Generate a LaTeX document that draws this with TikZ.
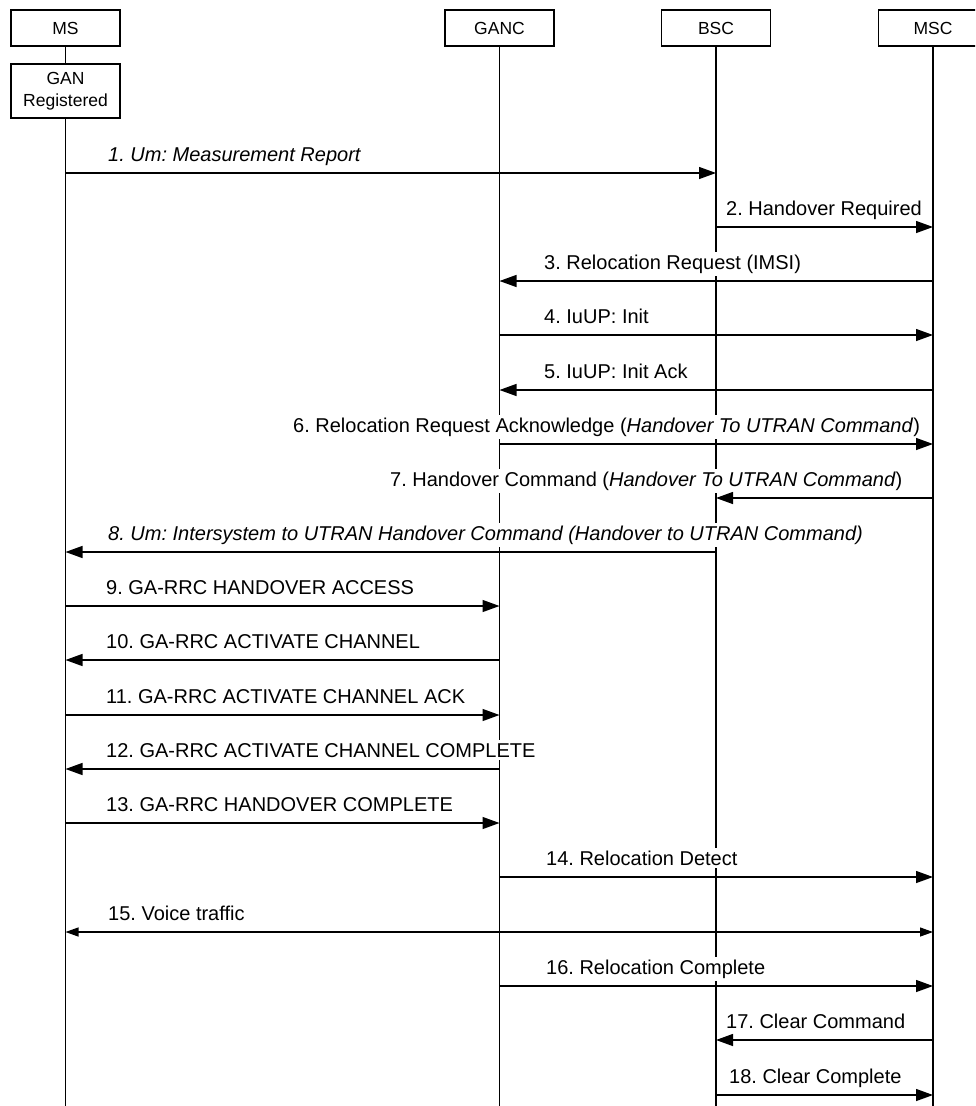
\documentclass[tikz,border=0pt]{standalone}
\usepackage{fontspec}
\setmainfont{Liberation Sans}
\frenchspacing
\usetikzlibrary{
  arrows.meta
}
\definecolor{ink}{HTML}{000000}
\tikzset{
  font=\fontsize{20}{24}\selectfont,
  entity/.style={
    draw=ink,
    line width=1.2pt,
    fill=white,
    align=center,
    text=ink,
    minimum width=109pt,
    minimum height=36pt,
    inner sep=0pt,
    font=\fontsize{17.5}{21.5}\selectfont
  },
  statebox/.style={
    entity,
    minimum height=54pt
  },
  lifeline/.style={draw=ink, line width=1.3pt},
  msg/.style={-{Triangle[length=17pt,width=12pt]}, draw=ink, line width=1.3pt},
  msgboth/.style={{Triangle[length=13pt,width=9pt]}-{Triangle[length=13pt,width=9pt]}, draw=ink, line width=1.3pt},
  msg label/.style={anchor=base west, fill=white, inner xsep=1pt, inner ysep=3pt, text=ink}
}

\begin{document}
\begin{tikzpicture}[x=1pt,y=-1pt]
  \useasboundingbox (0,0) rectangle (975,1106);
  \clip (0,0) rectangle (975,1106);

  % Entities
  \node[entity] (ms) at (65.5,28) {MS};
  \node[entity] (ganc) at (499.5,28) {GANC};
  \node[entity] (bsc) at (716,28) {BSC};
  \node[entity] (msc) at (933,28) {MSC};
  \node[statebox] (ganreg) at (65.5,91) {GAN\\Registered};

  % Message rows
  \coordinate (end) at (0,1106);
  \foreach \y [count=\i] in {173,227,281,335,390,444,498,552,606,660,715,769,823,877,932,986,1040,1095}
    \coordinate (r\i) at (0,\y);

  % Lifelines
  \draw[lifeline] (ms.south) -- (ganreg.north);
  \draw[lifeline] (ganreg.south) -- (ganreg |- end);
  \draw[lifeline] (ganc.south) -- (ganc |- end);
  \draw[lifeline] (bsc.south) -- (bsc |- end);
  \draw[lifeline] (msc.south) -- (msc |- end);

  % Message labels
  \node[msg label] (l1) at (107,161) {\itshape 1. Um: Measurement Report};
  \node[msg label] (l2) at (725,215) {2. Handover Required};
  \node[msg label] (l3) at (543,269) {3. Relocation Request (IMSI)};
  \node[msg label] (l4) at (543,323) {4. IuUP: Init};
  \node[msg label] (l5) at (543,378) {5. IuUP: Init Ack};
  \node[msg label] (l6) at (292,432) {6. Relocation Request Acknowledge (\textit{Handover To UTRAN Command})};
  \node[msg label] (l7) at (389,486) {7. Handover Command (\textit{Handover To UTRAN Command})};
  \node[msg label] (l8) at (107,540) {\itshape 8. Um: Intersystem to UTRAN Handover Command (Handover to UTRAN Command)};
  \node[msg label] (l9) at (105,594) {9. GA-RRC HANDOVER ACCESS};
  \node[msg label] (l10) at (105,648) {10. GA-RRC ACTIVATE CHANNEL};
  \node[msg label] (l11) at (105,703) {11. GA-RRC ACTIVATE CHANNEL ACK};
  \node[msg label] (l12) at (105,757) {12. GA-RRC ACTIVATE CHANNEL COMPLETE};
  \node[msg label] (l13) at (105,811) {13. GA-RRC HANDOVER COMPLETE};
  \node[msg label] (l14) at (545,865) {14. Relocation Detect};
  \node[msg label] (l15) at (107,920) {15. Voice traffic};
  \node[msg label] (l16) at (545,974) {16. Relocation Complete};
  \node[msg label] (l17) at (725,1028) {17. Clear Command};
  \node[msg label] (l18) at (728,1083) {18. Clear Complete};

  % Messages
  \draw[msg] (ms |- r1) -- (bsc |- r1);
  \draw[msg] (bsc |- r2) -- (msc |- r2);
  \draw[msg] (msc |- r3) -- (ganc |- r3);
  \draw[msg] (ganc |- r4) -- (msc |- r4);
  \draw[msg] (msc |- r5) -- (ganc |- r5);
  \draw[msg] (ganc |- r6) -- (msc |- r6);
  \draw[msg] (msc |- r7) -- (bsc |- r7);
  \draw[msg] (bsc |- r8) -- (ms |- r8);
  \draw[msg] (ms |- r9) -- (ganc |- r9);
  \draw[msg] (ganc |- r10) -- (ms |- r10);
  \draw[msg] (ms |- r11) -- (ganc |- r11);
  \draw[msg] (ganc |- r12) -- (ms |- r12);
  \draw[msg] (ms |- r13) -- (ganc |- r13);
  \draw[msg] (ganc |- r14) -- (msc |- r14);
  \draw[msgboth] (ms |- r15) -- (msc |- r15);
  \draw[msg] (ganc |- r16) -- (msc |- r16);
  \draw[msg] (msc |- r17) -- (bsc |- r17);
  \draw[msg] (bsc |- r18) -- (msc |- r18);
\end{tikzpicture}
\end{document}
